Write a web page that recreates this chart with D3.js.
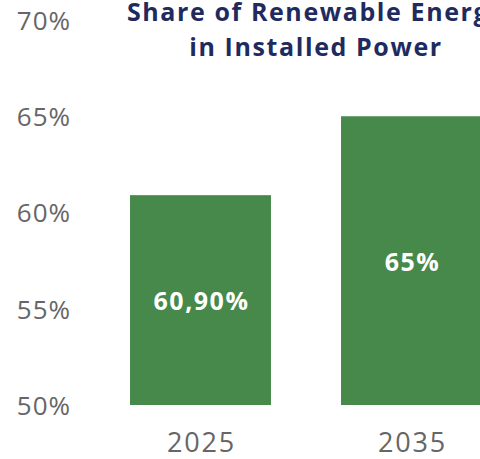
<!DOCTYPE html>
<html><head><meta charset="utf-8">
<script src="https://cdn.jsdelivr.net/npm/d3@7"></script>
<style>html,body{margin:0;padding:0;background:#fff;overflow:hidden}</style>
</head><body>
<svg id="c" width="480" height="459"></svg>
<script>
const categories = ["2025", "2035"];
const values = [60.9, 65];
const valueLabels = ["60,90%", "65%"];
const yTicks = [50, 55, 60, 65, 70];
const titleLines = ["Share of Renewable Energy", "in Installed Power"];

const svg = d3.select("#c");
const font = "'Open Sans', sans-serif";
const y = d3.scaleLinear().domain([50, 70]).range([405, 20]);
const x = d3.scaleBand().domain(categories).range([95, 517]).paddingInner(0.332).paddingOuter(0.166);

// y axis
const yAxis = d3.axisLeft(y).tickValues(yTicks).tickFormat(d => d + "%").tickSize(0).tickPadding(0);
const gy = svg.append("g").attr("transform", "translate(71,0)").call(yAxis);
gy.select(".domain").remove();
gy.selectAll("text").attr("font-family", font).attr("font-size", 26).attr("letter-spacing", 1)
  .attr("fill", "#666").attr("dy", "0.36em");

// x axis
const xAxis = d3.axisBottom(x).tickSize(0).tickPadding(0);
const gx = svg.append("g").attr("transform", "translate(1,442)").call(xAxis);
gx.select(".domain").remove();
gx.selectAll("text").attr("font-family", font).attr("font-size", 27).attr("letter-spacing", 1.8)
  .attr("fill", "#666").attr("dy", "0.36em");

// bars
svg.append("g").selectAll("rect").data(categories).join("rect")
  .attr("x", d => x(d)).attr("width", x.bandwidth())
  .attr("y", (d, i) => y(values[i])).attr("height", (d, i) => y(50) - y(values[i]))
  .attr("fill", "#46894a");

svg.append("g").selectAll("text").data(categories).join("text")
  .attr("x", d => x(d) + x.bandwidth() / 2 + 1)
  .attr("y", (d, i) => (y(values[i]) + y(50)) / 2 + 1)
  .attr("text-anchor", "middle").attr("dy", "0.36em")
  .attr("font-family", font).attr("font-weight", 700).attr("font-size", 25).attr("letter-spacing", 1.5)
  .attr("fill", "#fff").text((d, i) => valueLabels[i]);

// title
svg.append("g").selectAll("text").data(titleLines).join("text")
  .attr("x", 316).attr("y", (d, i) => 21 + i * 35)
  .attr("text-anchor", "middle")
  .attr("font-family", font).attr("font-weight", 700).attr("font-size", 25).attr("letter-spacing", 1.6)
  .attr("fill", "#1f2b5e").text(d => d);
</script>
</body></html>
